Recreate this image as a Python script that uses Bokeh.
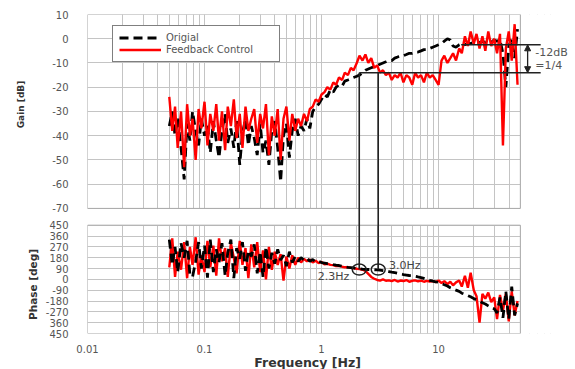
from bokeh.plotting import figure
from bokeh.layouts import row, column
from bokeh.models import Range1d, FixedTicker, Arrow, NormalHead
from bokeh.embed import file_html
from bokeh.resources import INLINE
from bokeh.core.properties import value
import math

# ---------------- data ----------------
freq = [0.050, 0.053, 0.056, 0.059, 0.063, 0.067, 0.071, 0.075, 0.079, 0.084, 0.089, 0.094,
        0.100, 0.106, 0.112, 0.119, 0.126, 0.133, 0.141, 0.150, 0.158, 0.168, 0.178, 0.188,
        0.200, 0.211, 0.224, 0.237, 0.251, 0.266, 0.282, 0.299, 0.316, 0.335, 0.355, 0.376,
        0.398, 0.422, 0.447, 0.473, 0.501, 0.531, 0.562, 0.596, 0.631, 0.668, 0.708, 0.750,
        0.794, 0.841, 0.891, 0.944,
        1.00, 1.06, 1.12, 1.19, 1.26, 1.33, 1.41, 1.50, 1.58, 1.68, 1.78, 1.88,
        2.00, 2.11, 2.24, 2.37, 2.51, 2.66, 2.82, 2.99, 3.16, 3.35, 3.55, 3.76,
        3.98, 4.22, 4.47, 4.73, 5.01, 5.31, 5.62, 5.96, 6.31, 6.68, 7.08, 7.50,
        7.94, 8.41, 8.91, 9.44,
        10.0, 10.6, 11.2, 11.9, 12.6, 13.3, 14.1, 15.0, 15.8, 16.8, 17.8, 18.8,
        20.0, 21.1, 22.4, 23.7, 25.1, 26.6, 28.2, 29.9, 31.6, 33.5, 35.5, 37.6,
        39.8, 42.2, 44.7, 47.3]

gain_original = [-36, -30, -40, -33, -45, -58, -35, -42, -30, -38, -44, -33,
                 -40, -36, -47, -34, -42, -49, -38, -31, -43, -37, -45, -34,
                 -52, -39, -33, -44, -36, -41, -48, -35, -47, -42, -52, -38,
                 -34, -45, -59, -40, -35, -49, -38, -33, -40, -36, -38, -33,
                 -37, -30, -28, -27,
                 -25, -23, -24, -21, -22, -20, -19, -19.5, -17.5, -17, -16.5, -16,
                 -15.5, -15, -14, -13, -12.5, -12, -11.5, -11, -10.5, -10, -9.5, -9,
                 -9, -8, -7.5, -7, -7, -6.5, -6, -6, -5.5, -5.5, -5, -4.5,
                 -4.5, -4, -3.5, -3,
                 -2.5, -2, -1, 0, -0.5, -3, -3.5, -2.5, -2, -2.5, -1.8, -2,
                 -1.5, -1.8, -1.5, -1.2, -1.5, -1, -1.5, -0.5, -1, -0.5, -6, -20,
                 -3, 0, -8, 4]

gain_feedback = [-24, -38, -28, -45, -30, -53, -27, -40, -33, -50, -29, -37,
                 -26, -44, -31, -38, -27, -42, -30, -46, -28, -36, -25, -41,
                 -31, -45, -28, -38, -33, -29, -43, -31, -37, -27, -48, -32,
                 -40, -29, -50, -33, -28, -42, -31, -38, -33, -36, -31, -34,
                 -29, -28, -25, -26,
                 -23, -22, -20, -21, -18, -19, -16, -17, -14, -15, -12, -13,
                 -10, -7, -9, -6.5, -10, -8, -12, -11, -14, -13, -15, -14,
                 -17, -15, -16, -14, -18, -15, -16, -19, -14, -16, -15, -18,
                 -14, -16, -15, -17,
                 -19, -9, -7, -10, -8, -6, -9, -4, -6, 1, -3, 3,
                 -2, 2, -4, 1, -5, 3, -3, 0, -6, 2, -44, -4,
                 3, -9, 6, -19]

phase_original = [330, 120, 270, 60, 300, 180, 320, 40, 20, 150, 310, 90,
                  280, 15, 330, 60, 250, 140, 300, 30, 220, 330, 10, 260,
                  170, 310, 70, 240, 190, 290, 50, 230, 20, 270, 90, 220,
                  130, 250, 160, 200, 110, 230, 140, 190, 150, 180, 160, 175,
                  150, 165, 145, 150,
                  140, 135, 130, 128, 122, 118, 115, 110, 105, 100, 98, 95,
                  90, 88, 85, 83, 82, 80, 80, 78, 76, 73, 70, 65,
                  60, 55, 50, 45, 40, 36, 32, 30, 25, 20, 15, 8,
                  0, -8, -15, -20,
                  -25, -35, -45, -55, -70, -80, -90, -100, -115, -125, -135, -145,
                  -160, -170, -180, -195, -205, -220, -235, -245, -280, -150, -320, -100,
                  -330, -60, -300, -200]

phase_feedback = [100, 340, 20, 230, 80, 310, 10, 270, 120, 350, 40, 200,
                  60, 320, 100, 280, 30, 340, 150, 260, 20, 300, 180, 50,
                  320, 120, 260, 10, 290, 100, 310, 60, 240, 0, 270, 80,
                  230, 120, 210, -10, 190, 90, 200, 120, 180, 140, 170, 150,
                  165, 140, 155, 135,
                  145, 125, 130, 120, 118, 110, 112, 105, 100, 102, 95, 92,
                  88, 85, 80, 70, 45, 20, 5, -5, -10, 0, -12, -8,
                  -15, -5, -18, -10, -14, -6, -20, -12, -8, -16, -10, -20,
                  -12, -18, -14, -22,
                  -10, -30, -15, -40, -20, -50, -25, -10, -60, 30, -70, 55,
                  -90, -140, -360, -120, -160, -110, -190, -150, -330, -130, -260, -120,
                  -350, -100, -300, -180]

x_ticks = [0.01, 0.1, 1, 10]
x_tick_labels = ["0.01", "0.1", "1", "10"]
gain_ticks = [10, 0, -10, -20, -30, -40, -50, -60, -70]
gain_tick_labels = ["10", "0", "-10", "-20", "-30", "-40", "-50", "-60", "-70"]
phase_ticks = [450, 360, 270, 180, 90, 0, -90, -180, -270, -360, -450]
phase_tick_labels = ["450", "360", "270", "180", "90", "0", "-90", "-180", "-270", "360", "450"]

series_names = ["Origial", "Feedback Control"]
axis_titles = ["Gain [dB]", "Phase [deg]", "Frequency [Hz]"]
cross_freqs = [2.1, 3.05]
cross_labels = ["2.3Hz", "3.0Hz"]
cross_phase = 81
level_hi = -2.5
level_lo = -14
level_text = ["-12dB", "=1/4"]

# ---------------- layout constants ----------------
LEFT_W = 42
FRAME_L, FRAME_T, FRAME_B = 83, 14, 338
X_MIN, X_MAX, X_PANEL = 0.01, 148, 50
G_BOT, G_TOP = -121.6, 10          # gain units over the whole frame
P_BOT, P_TOP = -450, 2201          # phase units over the whole frame


def phase_to_gain(v):
    return G_BOT + (v - P_BOT) * (G_TOP - G_BOT) / (P_TOP - P_BOT)


GRID = "#c4c4c4"
FONT = "DejaVu Sans"
TXT = "#555555"

p = figure(width=575 - LEFT_W, height=355, x_axis_type="log",
           x_range=Range1d(X_MIN, X_MAX), y_range=Range1d(G_BOT, G_TOP),
           output_backend="svg", toolbar_location=None,
           min_border_left=FRAME_L - LEFT_W, min_border_right=0, min_border_top=FRAME_T,
           min_border_bottom=355 - FRAME_B)
p.extra_y_ranges = {"phase": Range1d(P_BOT, P_TOP)}
p.outline_line_color = None

# axes
minor = [m * d for d in (0.01, 0.1, 1, 10) for m in range(2, 10)]
p.xaxis.ticker = FixedTicker(ticks=x_ticks, minor_ticks=minor)
p.xaxis.major_label_overrides = dict(zip(x_ticks, x_tick_labels))
y_positions = gain_ticks + [phase_to_gain(v) for v in phase_ticks]
y_labels = gain_tick_labels + phase_tick_labels
p.yaxis.ticker = FixedTicker(ticks=y_positions)
p.yaxis.major_label_overrides = dict(zip(y_positions, y_labels))
for ax in (p.xaxis[0], p.yaxis[0]):
    ax.axis_line_color = None
    ax.major_tick_line_color = None
    ax.minor_tick_line_color = None
    ax.major_label_text_font = FONT
    ax.major_label_text_font_size = "10px"
    ax.major_label_text_color = TXT
p.xaxis.major_label_standoff = 5
p.yaxis.major_label_standoff = 13

p.xgrid.grid_line_color = GRID
p.xgrid.minor_grid_line_color = GRID
p.ygrid.grid_line_color = GRID

# white covers for the gap between panels and the right margin
p.quad(left=[X_MIN], right=[X_MAX], bottom=[phase_to_gain(450)], top=[-70],
       fill_color="white", line_color=None)
p.quad(left=[X_PANEL], right=[X_MAX], bottom=[G_BOT], top=[G_TOP],
       fill_color="white", line_color=None)

# gain
p.line(freq, gain_original, line_color="black", line_width=2.8, line_dash="9 5",
       legend_label=series_names[0])
p.line(freq, gain_feedback, line_color="#ff0000", line_width=2.4,
       legend_label=series_names[1])
# phase
p.line(freq, phase_feedback, line_color="#ff0000", line_width=2.4, y_range_name="phase")
p.line(freq, phase_original, line_color="black", line_width=2.8, line_dash="9 5",
       y_range_name="phase")

# panel outlines
p.quad(left=[X_MIN], right=[X_PANEL], bottom=[-70], top=[10],
       fill_color=None, line_color="#a8a8a8", line_width=1)
p.quad(left=[X_MIN], right=[X_PANEL], bottom=[-450], top=[450],
       fill_color=None, line_color="#a8a8a8", line_width=1, y_range_name="phase")

# crossover annotation
p.segment(x0=cross_freqs, y0=[level_lo] * 2, x1=cross_freqs,
          y1=[phase_to_gain(cross_phase)] * 2, line_color="#222222", line_width=1.6)
p.ellipse(x=cross_freqs, y=[cross_phase] * 2, width=14, height=11,
          width_units="screen", height_units="screen", fill_color=None,
          line_color="#222222", line_width=1.5, y_range_name="phase")
p.text(x=[1.73], y=[20], text=[cross_labels[0]], text_align="right", text_baseline="middle",
       text_font=value(FONT), text_font_size="11px", text_color="#444444",
       y_range_name="phase")
p.text(x=[3.77], y=[113], text=[cross_labels[1]], text_align="left", text_baseline="middle",
       text_font=value(FONT), text_font_size="11px", text_color="#444444",
       y_range_name="phase")

# -12 dB annotation
p.segment(x0=[15.6, cross_freqs[0]], y0=[level_hi, level_lo], x1=[74.6, 74.6],
          y1=[level_hi, level_lo], line_color="#222222", line_width=1.4)
p.add_layout(Arrow(x_start=57.7, y_start=level_hi, x_end=57.7, y_end=level_lo,
                   line_color="#222222", line_width=1.3,
                   start=NormalHead(size=6, fill_color="#222222", line_color="#222222"),
                   end=NormalHead(size=6, fill_color="#222222", line_color="#222222")))
p.text(x=[67, 67], y=[-5.6, -11.2], text=level_text, text_align="left",
       text_baseline="middle", text_font=value(FONT), text_font_size="11px",
       text_color=TXT)

# legend
lg = p.legend[0]
lg.location = (25, 271)
lg.border_line_color = "black"
lg.border_line_width = 1
lg.background_fill_alpha = 1
lg.label_text_font = FONT
lg.label_text_font_size = "10px"
lg.label_text_color = TXT
lg.glyph_width = 42
lg.glyph_height = 11
lg.label_height = 11
lg.label_width = 107
lg.label_standoff = 5
lg.spacing = 1
lg.padding = 6
lg.margin = 0


def strip(width, height, xr, yr, borders, x_axis_type="linear"):
    f = figure(width=width, height=height, x_range=xr, y_range=yr, x_axis_type=x_axis_type,
               output_backend="svg", toolbar_location=None,
               min_border_left=borders[0], min_border_right=borders[1],
               min_border_top=borders[2], min_border_bottom=borders[3])
    f.axis.visible = False
    f.grid.visible = False
    f.outline_line_color = None
    return f


# left strip with the two rotated axis titles (page pixel coordinates, frame aligned with p)
left = strip(LEFT_W, 369, Range1d(0, LEFT_W), Range1d(FRAME_B, FRAME_T),
             (0, 0, FRAME_T, 369 - FRAME_B))
left.text(x=[20], y=[104], text=[axis_titles[0]], angle=math.pi / 2, text_align="center",
          text_baseline="middle", text_font=value(FONT), text_font_style="bold",
          text_font_size="9px", text_color="#333333")
left.text(x=[32], y=[284], text=[axis_titles[1]], angle=math.pi / 2, text_align="center",
          text_baseline="middle", text_font=value(FONT), text_font_style="bold",
          text_font_size="10.5px", text_color="#333333")

# bottom strip with the x-axis title, sharing the frequency axis of p
bottom = strip(575 - LEFT_W, 14, p.x_range, Range1d(369, 355),
               (FRAME_L - LEFT_W, 0, 0, 0), x_axis_type="log")
bottom.text(x=[0.76], y=[362], text=[axis_titles[2]], text_align="center",
            text_baseline="middle", text_font=value(FONT), text_font_style="bold",
            text_font_size="12.5px", text_color="#333333")

layout = row(left, column(p, bottom))
open("out.html", "w").write(file_html(layout, INLINE))
